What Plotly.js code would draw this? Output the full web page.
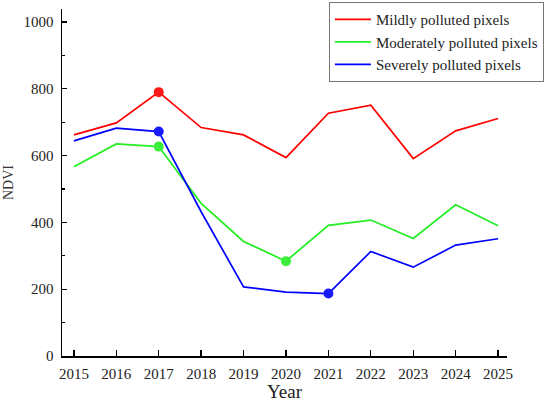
<!DOCTYPE html>
<html>
<head>
<meta charset="utf-8">
<script src="https://cdn.plot.ly/plotly-3.0.1.min.js"></script>
<style>html,body{margin:0;padding:0;background:#fff;}#chart{width:550px;height:405px;}</style>
</head>
<body>
<div id="chart"></div>
<script>
const years = [2015, 2016, 2017, 2018, 2019, 2020, 2021, 2022, 2023, 2024, 2025];
const mild = [662, 698, 790, 684, 662, 594, 727, 751, 591, 674, 711];
const moderate = [567, 635, 627, 457, 343, 284, 391, 407, 352, 453, 390];
const severe = [644, 682, 672, 432, 207, 191, 187, 313, 266, 332, 351];
const seriesNames = ['Mildly polluted pixels', 'Moderately polluted pixels', 'Severely polluted pixels'];
const mildHighlight = [2017];
const moderateHighlight = [2017, 2020];
const severeHighlight = [2017, 2021];
const yTickVals = [0, 200, 400, 600, 800, 1000];

const colors = ['#ff0000', '#22ee22', '#0000ff'];
const markerColors = ['#ff1a1a', '#3cee3c', '#1a1aff'];
const seriesData = [mild, moderate, severe];
const highlights = [mildHighlight, moderateHighlight, severeHighlight];

const traces = [];
seriesData.forEach((vals, i) => {
  traces.push({
    x: years, y: vals, type: 'scatter', mode: 'lines', name: seriesNames[i],
    line: {color: colors[i], width: 1.7}
  });
});
seriesData.forEach((vals, i) => {
  const hx = highlights[i];
  const hy = hx.map(yr => vals[years.indexOf(yr)]);
  traces.push({
    x: hx, y: hy, type: 'scatter', mode: 'markers', showlegend: false,
    marker: {color: markerColors[i], size: 10}
  });
});

const font = 'Liberation Serif, Times New Roman, serif';
const layout = {
  width: 550, height: 405,
  margin: {l: 62, r: 43, t: 9, b: 49, autoexpand: false},
  paper_bgcolor: '#ffffff', plot_bgcolor: '#ffffff',
  font: {family: font, size: 15, color: '#222'},
  showlegend: true,
  legend: {
    xref: 'container', yref: 'container',
    x: 0.598, xanchor: 'left', y: 0.995, yanchor: 'top',
    bgcolor: '#ffffff', bordercolor: '#777', borderwidth: 1,
    font: {family: font, size: 15, color: '#222'},
    itemwidth: 36,
    tracegroupgap: 0
  },
  xaxis: {
    range: [2014.72, 2025.21],
    tickvals: years, ticktext: years.map(String),
    ticks: 'inside', ticklen: 6, tickwidth: 1.3, tickcolor: '#000',
    showline: true, linecolor: '#000', linewidth: 1.5,
    showgrid: false, zeroline: false,
    ticklabelstandoff: 3,
    tickfont: {family: font, size: 15, color: '#222'},
    title: {text: 'Year', font: {family: font, size: 19, color: '#222'}, standoff: 4}
  },
  yaxis: {
    range: [0, 1039],
    tickvals: yTickVals,
    ticks: 'inside', ticklen: 5, tickwidth: 1.3, tickcolor: '#000',
    minor: {dtick: 100, ticks: 'inside', ticklen: 3, tickwidth: 1.3, tickcolor: '#000', showgrid: false},
    showline: true, linecolor: '#000', linewidth: 1.5,
    showgrid: false, zeroline: false,
    ticklabelstandoff: 4,
    tickfont: {family: font, size: 15, color: '#222'},
    title: {text: 'NDVI', font: {family: font, size: 14, color: '#333'}, standoff: 6}
  }
};

Plotly.newPlot('chart', traces, layout, {displayModeBar: false, staticPlot: true});
</script>
</body>
</html>
